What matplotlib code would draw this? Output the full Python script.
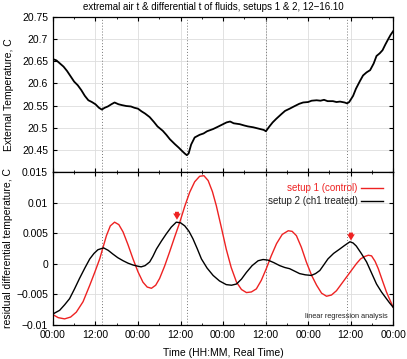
import matplotlib.pyplot as plt
import numpy as np

plt.rcParams.update({"font.family": ["Liberation Sans", "DejaVu Sans"], "font.size": 7})

# external air temperature (hours from 12.10 00:00, C)
ext_h = [0, 1, 2, 3, 4, 5, 6, 7, 8, 9, 10, 11, 12, 13, 13.8, 14.6, 15.5, 16.5, 17.4, 18.5,
         19.5, 20.7, 22, 23, 24, 25, 26, 27.3, 28.5, 29.5, 31, 32, 33, 34.4, 35.5, 36.5, 37.3,
         37.8, 38.3, 39, 40, 41.4, 42.5, 43.5, 45.2, 46.5, 48, 49, 50, 51, 52.7, 54, 55,
         56.5, 57.5, 58.5, 59.5, 60.1, 61, 62, 63, 64.5, 65.5, 66.8, 68, 69.5, 70.6, 72,
         73, 74.4, 75.5, 76.5, 77.5, 79, 80, 81, 82.3, 83, 83.6, 84.7, 85.5, 86.6, 87.5,
         88.5, 89.5, 90.5, 91.3, 92.2, 93, 93.8, 94.6, 95.3, 96]
ext_t = [20.655, 20.652, 20.645, 20.638, 20.628, 20.616, 20.604, 20.596, 20.585, 20.572,
         20.562, 20.558, 20.553, 20.545, 20.541, 20.545, 20.548, 20.553, 20.557, 20.553,
         20.551, 20.549, 20.548, 20.545, 20.543, 20.537, 20.532, 20.524, 20.513, 20.503,
         20.493, 20.484, 20.474, 20.463, 20.455, 20.447, 20.441, 20.438, 20.442, 20.462,
         20.478, 20.484, 20.487, 20.492, 20.497, 20.502, 20.508, 20.512, 20.514, 20.510,
         20.508, 20.505, 20.503, 20.501, 20.499, 20.497, 20.495, 20.492, 20.502, 20.512,
         20.520, 20.531, 20.538, 20.543, 20.548, 20.554, 20.557, 20.558, 20.561, 20.562,
         20.561, 20.563, 20.560, 20.560, 20.558, 20.559, 20.557, 20.555, 20.558, 20.572,
         20.588, 20.605, 20.618, 20.625, 20.630, 20.645, 20.662, 20.668, 20.675, 20.688,
         20.700, 20.710, 20.718]

# residual differential temperature (C)
s1_h = [0, 1.5, 3.3, 5, 6.6, 8.5, 10.4, 11.8, 13.2, 14.2, 15.1, 16.2, 17.4, 18.6, 19.8,
        21.2, 22.6, 24, 25.4, 26.6, 27.8, 29, 30.1, 31.5, 32.9, 34.3, 35.8, 37.2, 38.6,
        40, 41.4, 42.6, 43.8, 45, 46.1, 47.5, 48.9, 50.3, 51.8, 53.2, 54.6, 56, 57.4,
        58.8, 60.2, 61.6, 63.1, 64.7, 66.4, 67.5, 68.7, 70.1, 71.5, 73, 74.4, 75.8, 77.2,
        78.6, 80, 81.4, 82.8, 84.2, 85.6, 86.8, 88, 89, 89.9, 90.9, 91.8, 93, 94.1, 95, 96]
s1_v = [-0.0083, -0.0088, -0.0090, -0.0087, -0.0079, -0.0062, -0.0035, -0.0014, 0.0008,
        0.0028, 0.0046, 0.0062, 0.0068, 0.0064, 0.0052, 0.0031, 0.0008, -0.0013, -0.0030,
        -0.0038, -0.0040, -0.0035, -0.0024, -0.0004, 0.0019, 0.0043, 0.0068, 0.0094,
        0.0117, 0.0134, 0.0143, 0.0144, 0.0136, 0.0118, 0.0095, 0.0060, 0.0024, -0.0006,
        -0.0030, -0.0042, -0.0047, -0.0046, -0.0041, -0.0027, -0.0008, 0.0013, 0.0033,
        0.0048, 0.0054, 0.0053, 0.0046, 0.0027, 0.0003, -0.0019, -0.0035, -0.0048, -0.0053,
        -0.0051, -0.0044, -0.0033, -0.0022, -0.0011, 0.0000, 0.0008, 0.0012, 0.0014,
        0.0013, 0.0004, -0.0008, -0.0028, -0.0046, -0.0058, -0.0071]
s2_h = [0, 1.9, 3.3, 4.7, 6.1, 7.5, 9, 10.4, 11.6, 12.7, 14.3, 15.6, 16.9, 18.3, 19.8,
        21.2, 22.6, 24, 24.9, 26, 27.3, 28.2, 29.2, 30.6, 32, 33.4, 34.8, 36, 37.2, 38.4,
        39.5, 40.7, 41.9, 43.5, 45.2, 47, 48.9, 50.4, 51.8, 53.2, 54.6, 56.2, 57.9, 59.3,
        60.7, 62.3, 64, 65.4, 66.8, 68.2, 69.6, 71.2, 72.9, 74.1, 75.3, 76.4, 77.6, 79.2,
        80.9, 82.3, 83.8, 84.7, 85.6, 87, 88.5, 89.9, 91.3, 92.7, 94.1, 95, 96]
s2_v = [-0.0082, -0.0076, -0.0067, -0.0057, -0.0041, -0.0024, -0.0007, 0.0008, 0.0017,
        0.0023, 0.0026, 0.0022, 0.0016, 0.0010, 0.0005, 0.0001, -0.0002, -0.0004, -0.0005,
        -0.0003, 0.0003, 0.0012, 0.0024, 0.0037, 0.0049, 0.0060, 0.0068, 0.0067, 0.0062,
        0.0053, 0.0041, 0.0025, 0.0008, -0.0007, -0.0019, -0.0028, -0.0034, -0.0035,
        -0.0033, -0.0025, -0.0014, -0.0003, 0.0005, 0.0007, 0.0006, 0.0002, -0.0003,
        -0.0006, -0.0008, -0.0012, -0.0016, -0.0018, -0.0019, -0.0016, -0.0011, -0.0002,
        0.0008, 0.0017, 0.0024, 0.0030, 0.0036, 0.0034, 0.0029, 0.0017, 0.0003, -0.0015,
        -0.0033, -0.0046, -0.0057, -0.0064, -0.0071]

event_h = [13.8, 37.8, 60.1, 83.0]
arrow_h = [35.0, 84.1]
arrow_v = [0.0072, 0.0038]

xticks = np.arange(0, 97, 12)
xlabels = ["00:00", "12:00"] * 4 + ["00:00"]

fig = plt.figure(figsize=(4.07, 3.59), dpi=100)
ax1 = fig.add_axes([0.130, 0.5209, 0.836, 0.4317])
ax2 = fig.add_axes([0.130, 0.0947, 0.836, 0.4262])

for ax in (ax1, ax2):
    ax.set_xlim(0, 96)
    ax.set_xticks(xticks)
    ax.set_xticks(np.arange(0, 97, 6), minor=True)
    ax.grid(True, which="major", color="#dddddd", lw=0.6)
    for h in event_h:
        ax.axvline(h, color="#777777", lw=0.7, ls=(0, (1, 2)))
    ax.tick_params(direction="in", which="both", top=True, right=True, labelsize=7.5, length=3)
    ax.tick_params(which="minor", length=1.5, left=False, right=False)
    for s in ax.spines.values():
        s.set_linewidth(0.9)
    ax.set_axisbelow(True)

ax1.plot(ext_h, ext_t, color="black", lw=1.3)
ax1.set_ylim(20.4, 20.75)
ax1.set_yticks([20.45, 20.5, 20.55, 20.6, 20.65, 20.7, 20.75])
ax1.set_yticklabels(["20.45", "20.5", "20.55", "20.6", "20.65", "20.7", "20.75"])
ax1.set_xticklabels([])
ax1.set_ylabel("External Temperature, C", fontsize=7.5, labelpad=6)
fig.text(213 / 407, 1 - 7 / 359, "extremal air t & differential t of fluids, setups 1 & 2, 12\u221216.10",
         fontsize=7, ha="center", va="center")

ax2.plot(s1_h, s1_v, color="#ee2222", lw=1.0, label="setup 1 (control)")
ax2.plot(s2_h, s2_v, color="black", lw=1.0, label="setup 2 (ch1 treated)")
ax2.set_ylim(-0.01, 0.015)
ax2.set_yticks([-0.01, -0.005, 0, 0.005, 0.01, 0.015])
ax2.set_yticklabels(["\u22120.01", "\u22120.005", "0", "0.005", "0.01", "0.015"])
ax2.set_xticklabels(xlabels)
ax2.set_xlabel("Time (HH:MM, Real Time)", fontsize=7.5, labelpad=6)
ax2.set_ylabel("residual differential temperature, C", fontsize=7.5, labelpad=2)

for h, v in zip(arrow_h, arrow_v):
    ax2.annotate("", xy=(h, v), xytext=(h, v + 0.0013),
                 arrowprops=dict(arrowstyle="simple,head_width=0.55,head_length=0.45,tail_width=0.28",
                                 color="#ee2222", lw=0, shrinkA=0, shrinkB=0, mutation_scale=10))

leg = ax2.legend(loc="upper right", frameon=False, markerfirst=False, fontsize=7,
                 handlelength=2.2, handletextpad=0.4, labelspacing=0.3,
                 bbox_to_anchor=(0.995, 0.985))
for txt, c in zip(leg.get_texts(), ["#ee2222", "#222222"]):
    txt.set_color(c)

ax2.text(0.985, 0.03, "linear regression analysis", transform=ax2.transAxes,
         ha="right", va="bottom", fontsize=5.3, color="#222222")

fig.savefig("out.png", dpi=100)
